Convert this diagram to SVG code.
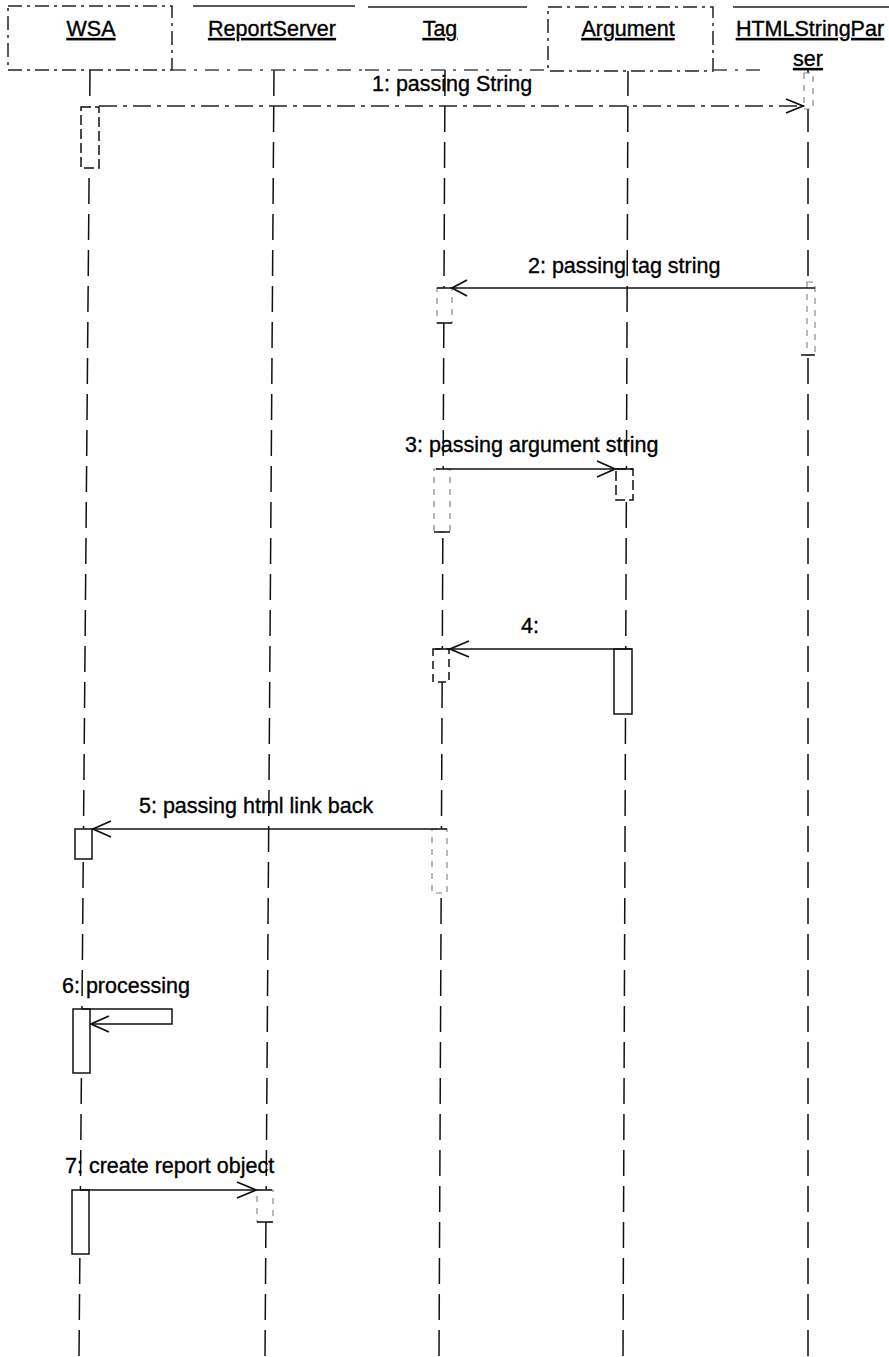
<svg xmlns="http://www.w3.org/2000/svg" width="889" height="1357" viewBox="0 0 889 1357">
<style>
text{font-family:"Liberation Sans",Arial,sans-serif;font-size:21.5px;fill:#000;stroke:#000;stroke-width:0.35}
.name{text-anchor:middle;text-decoration:underline}
.box{fill:#fff;stroke:#222;stroke-width:1.5;stroke-dasharray:14 5 3 5}
.top{stroke:#222;stroke-width:1.5}
.bot{stroke:#444;stroke-width:1.3;stroke-dasharray:14 8 3 8}
.life{stroke:#111;stroke-width:1.5;stroke-dasharray:26 10;fill:none}
.act{fill:#fff;stroke:#111;stroke-width:1.5}
.actf{fill:#fff;stroke:#888;stroke-width:1.2;stroke-dasharray:6 6}
.msg{stroke:#111;stroke-width:1.5;fill:none}
.msgd{stroke:#222;stroke-width:1.5;fill:none;stroke-dasharray:18 6 4 6}
.head{stroke:#111;stroke-width:1.8;fill:none}
</style>
<rect width="889" height="1357" fill="#fff"/>
<g id="lifelines">
<line class="life" x1="90" y1="70" x2="79" y2="1357"/>
<line class="life" x1="274" y1="70" x2="265" y2="1357"/>
<line class="life" x1="445" y1="70" x2="439" y2="1357"/>
<line class="life" x1="628" y1="70" x2="623" y2="1357"/>
<line class="life" x1="808" y1="70" x2="808" y2="1357"/>
</g>
<g id="WSA">
<rect class="box" x="8" y="6" width="164" height="64"/>
<text class="name" x="91" y="36">WSA</text>
</g>
<g id="ReportServer">
<line class="top" x1="193" y1="6" x2="355" y2="6"/>
<line class="bot" x1="172" y1="70" x2="365" y2="70"/>
<text class="name" x="272" y="36">ReportServer</text>
</g>
<g id="Tag">
<line class="top" x1="368" y1="7" x2="527" y2="7"/>
<line class="bot" x1="365" y1="70" x2="548" y2="70"/>
<text class="name" x="440" y="36">Tag</text>
</g>
<g id="Argument">
<rect class="box" x="548" y="7" width="165" height="64"/>
<text class="name" x="628" y="36">Argument</text>
</g>
<g id="HTMLStringParser">
<line class="top" x1="733" y1="7" x2="889" y2="7"/>
<line class="bot" x1="713" y1="70" x2="760" y2="70"/>
<text class="name" x="810" y="36">HTMLStringPar</text>
<text class="name" x="808" y="66">ser</text>
</g>
<g id="activations">
<rect class="act" x="81" y="107" width="18" height="61" style="stroke-dasharray:10 4"/>
<rect class="actf" x="804" y="73" width="9" height="36"/>
<rect class="actf" x="437" y="288" width="15" height="35"/>
<line class="msg" x1="437" y1="323" x2="452" y2="323"/>
<rect class="actf" x="807" y="282" width="8" height="73"/>
<line class="msg" x1="801" y1="355" x2="815" y2="355"/>
<rect class="actf" x="434" y="469" width="16" height="63"/>
<line class="msg" x1="434" y1="532" x2="450" y2="532"/>
<rect class="act" x="616" y="469" width="17" height="31" style="stroke-dasharray:10 4"/>
<rect class="act" x="433" y="649" width="16" height="33" style="stroke-dasharray:8 5"/>
<rect class="act" x="614" y="649" width="18" height="65"/>
<rect class="act" x="75" y="829" width="17" height="30"/>
<rect class="actf" x="432" y="829" width="15" height="64"/>
<rect class="act" x="73" y="1009" width="17" height="64"/>
<rect class="act" x="72" y="1190" width="17" height="64"/>
<rect class="actf" x="257" y="1190" width="16" height="32"/>
<line class="msg" x1="257" y1="1222" x2="273" y2="1222"/>
</g>
<g id="connectors">
<line class="msgd" x1="99" y1="106" x2="804" y2="106"/>
<polyline class="head" points="786,99 803,106 786,113"/>
<text x="372" y="91">1: passing String</text>

<line class="msg" x1="815" y1="288" x2="437" y2="288"/>
<polyline class="head" points="467,280 452,288 467,296"/>
<text x="528" y="273">2: passing tag string</text>

<line class="msg" x1="436" y1="469" x2="633" y2="469"/>
<polyline class="head" points="597,461 615,469 597,477"/>
<text x="405" y="452">3: passing argument string</text>

<line class="msg" x1="632" y1="649" x2="435" y2="649"/>
<polyline class="head" points="469,641 450,649 469,657"/>
<text x="521" y="633">4:</text>

<line class="msg" x1="447" y1="829" x2="92" y2="829"/>
<polyline class="head" points="111,821 93,829 111,837"/>
<text x="139" y="813">5: passing html link back</text>

<polyline class="msg" points="82,1009 172,1009 172,1024 90,1024"/>
<polyline class="head" points="109,1016 91,1024 109,1032"/>
<text x="62" y="993">6: processing</text>

<line class="msg" x1="80" y1="1190" x2="272" y2="1190"/>
<polyline class="head" points="237,1182 256,1190 237,1198"/>
<text x="65" y="1173">7: create report object</text>
</g>
</svg>
